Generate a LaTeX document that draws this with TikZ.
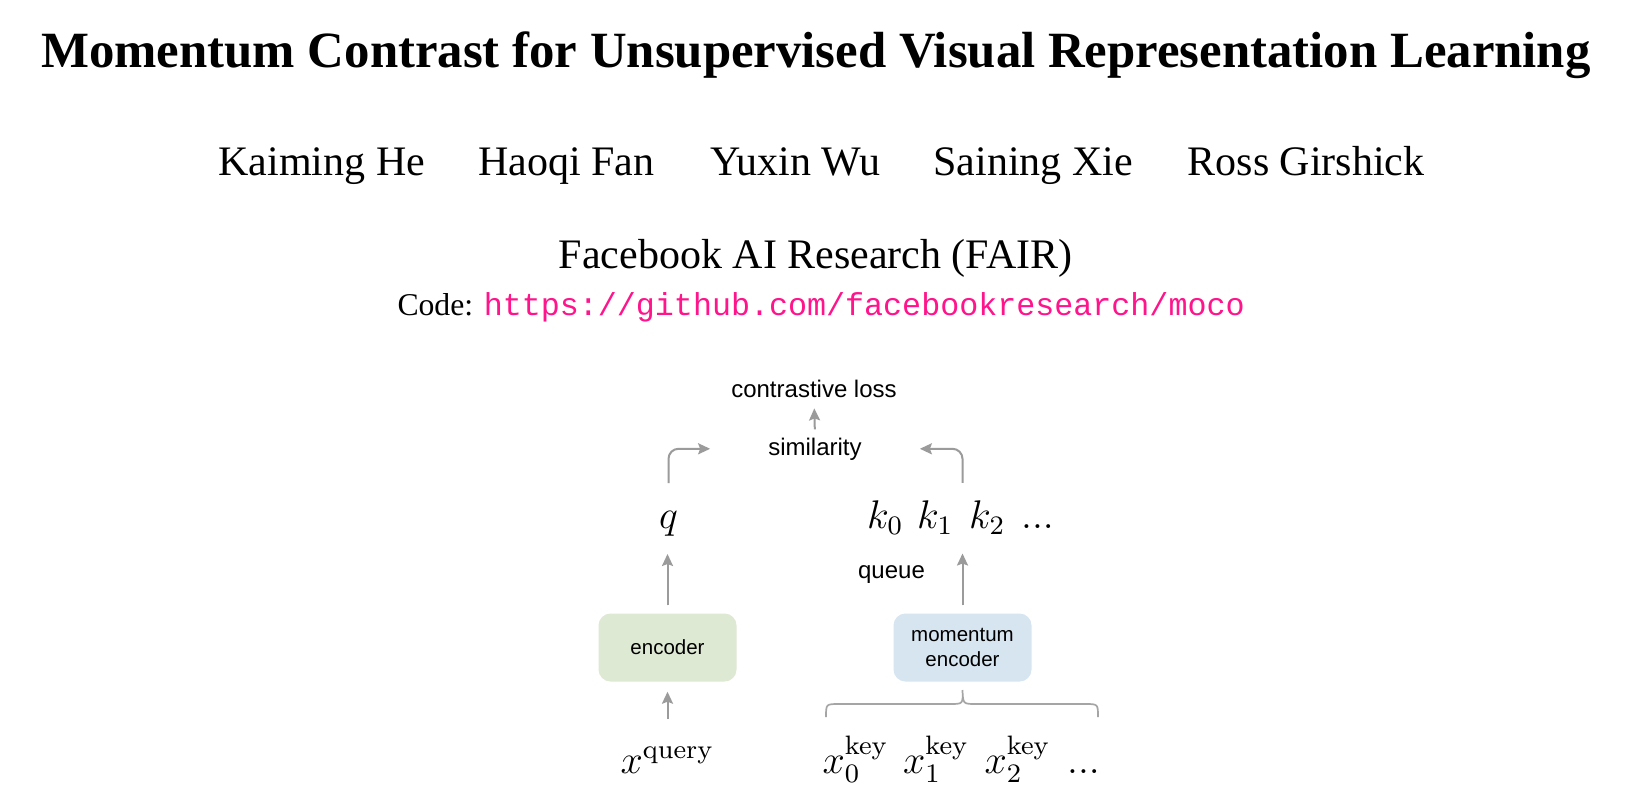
\RequirePackage{fix-cm}
\documentclass[tikz,border=0pt]{standalone}
\usepackage[no-math]{fontspec}
\usepackage{graphicx}
\setmainfont{Liberation Serif}
\setmonofont{Liberation Mono}
\newfontfamily\arialfont{Liberation Sans}
\usetikzlibrary{arrows.meta}
\definecolor{urlpink}{RGB}{255,20,140}
\definecolor{arrowgray}{RGB}{155,155,155}
\definecolor{encgreen}{RGB}{222,233,212}
\definecolor{encblue}{RGB}{214,229,240}
\newcommand{\pxsize}[1]{\fontsize{#1}{#1}\selectfont}
\newcommand{\bigmath}[1]{\scalebox{3.333}{\fontsize{12}{14}\selectfont$#1$}}

\begin{document}
\begin{tikzpicture}[x=1pt,y=-1pt,
    lbl/.style={inner sep=0pt,anchor=base},
    arr/.style={draw=arrowgray,line width=2pt,-{Stealth[length=12pt,width=11pt,inset=2pt]}},
    box/.style={rounded corners=12pt,minimum width=138pt,minimum height=68pt,inner sep=0pt,
      align=center,font=\arialfont\fontsize{20.5}{25}\selectfont}]
  \fill[white] (0,0) rectangle (1648,800);
  \useasboundingbox (0,0) rectangle (1648,800);
  \node[lbl,font=\bfseries\pxsize{50.8}] (title) at (816,67.3) {Momentum Contrast for Unsupervised Visual Representation Learning};
  \node[lbl,anchor=base west,font=\pxsize{42}] (he) at (218.3,175) {Kaiming He};
  \node[lbl,anchor=base west,font=\pxsize{42}] (fan) at (478.2,175) {Haoqi Fan};
  \node[lbl,anchor=base west,font=\pxsize{42}] (wu) at (710.5,175) {Yuxin Wu};
  \node[lbl,anchor=base west,font=\pxsize{42}] (xie) at (933.3,175) {Saining Xie};
  \node[lbl,anchor=base west,font=\pxsize{42}] (girshick) at (1187.5,175) {Ross Girshick};
  \node[lbl,font=\pxsize{42}] (fair) at (815.7,268) {Facebook AI Research (FAIR)};
  \node[lbl,anchor=base west,font=\pxsize{31.7}] (code) at (397.3,315) {Code: \textcolor{urlpink}{\texttt{https://github.com/facebookresearch/moco}}};

  \node[lbl,font=\arialfont\pxsize{24}] (loss) at (814,397) {contrastive loss};
  \node[lbl,font=\arialfont\pxsize{24}] (sim) at (815,455) {similarity};
  \node[lbl] (q) at (668.5,528) {\bigmath{q}};
  \node[lbl,anchor=base west] (k0) at (867,528.3) {\bigmath{k_0}};
  \node[lbl,anchor=base west] (k1) at (917,528.3) {\bigmath{k_1}};
  \node[lbl,anchor=base west] (k2) at (969,528.3) {\bigmath{k_2}};
  \node[lbl,anchor=base west] (kdots) at (1021,528.3) {\bigmath{...}};
  \node[lbl,font=\arialfont\pxsize{24}] (queue) at (891.5,578) {queue};
  \node[box,fill=encgreen] (enc) at (667.5,647.5) {encoder};
  \node[box,fill=encblue] (menc) at (962.5,647.5) {momentum\\encoder};
  \node[lbl,anchor=base west] (xq) at (620.5,773.3) {\bigmath{x^{\mathrm{query}}}};
  \node[lbl,anchor=base west] (x0) at (822.5,773.3) {\bigmath{x_0^{\mathrm{key}}}};
  \node[lbl,anchor=base west] (x1) at (903,773.3) {\bigmath{x_1^{\mathrm{key}}}};
  \node[lbl,anchor=base west] (x2) at (984.5,773.3) {\bigmath{x_2^{\mathrm{key}}}};
  \node[lbl,anchor=base west] (xdots) at (1067,773.3) {\bigmath{...}};

  \draw[arr,shorten <=28pt,shorten >=10pt] (xq.north -| enc.south) -- (enc.south);
  \draw[arr,shorten <=8pt,shorten >=18pt] (enc.north) -- (enc.north |- q.south);
  \draw[arr,shorten <=8pt,shorten >=19pt] (menc.north) -- (menc.north |- k1.south);
  \draw[arr,rounded corners=10pt,shorten <=27.5pt,shorten >=58pt] (q.north) |- (sim.west);
  \draw[arr,rounded corners=10pt,shorten <=17.5pt,shorten >=58pt] (k1.north -| menc.north) |- (sim.east);
  \draw[arr,shorten <=8pt,shorten >=11pt] (sim.north) -- (loss.south);
  \coordinate (bl) at (826,717);
  \coordinate (br) at (1098,717);
  \draw[draw=arrowgray!90,line width=1.7pt] (bl) .. controls (826,704) .. (839,704) -- (950,704)
    .. controls (963,704) .. ([yshift=-8.3pt]menc.south) .. controls (963,704) .. (976,704)
    -- (1085,704) .. controls (1098,704) .. (br);
\end{tikzpicture}
\end{document}
